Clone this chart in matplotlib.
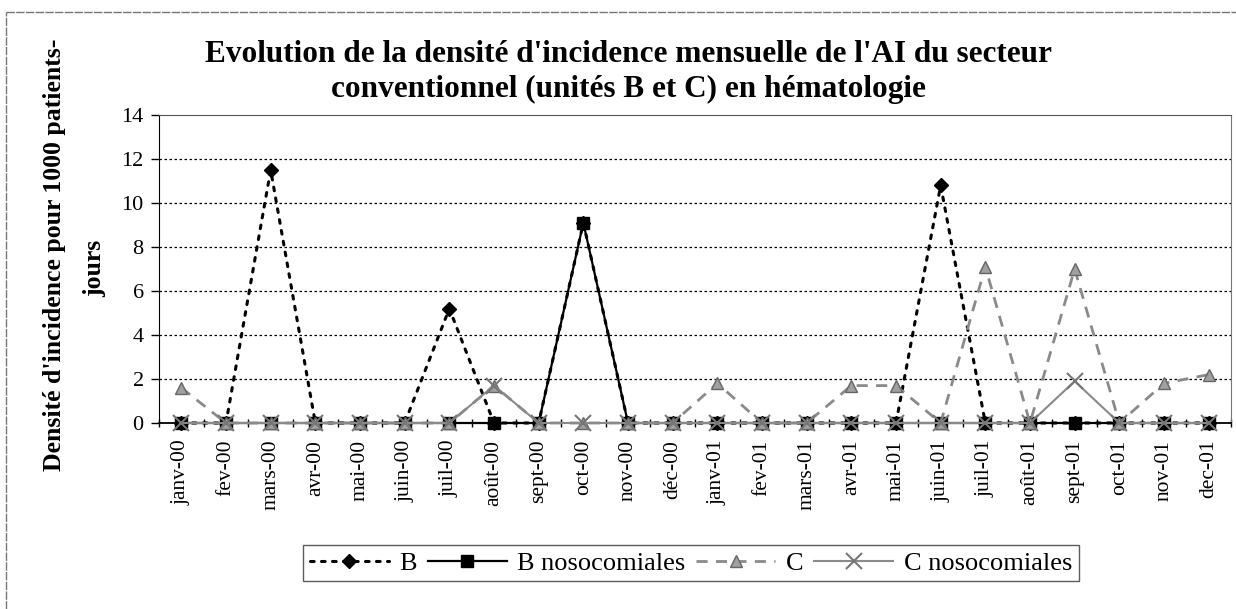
import matplotlib
matplotlib.use("Agg")
import matplotlib.pyplot as plt
from matplotlib.lines import Line2D
import numpy as np

months = ['janv-00', 'fev-00', 'mars-00', 'avr-00', 'mai-00', 'juin-00', 'juil-00',
          'août-00', 'sept-00', 'oct-00', 'nov-00', 'déc-00', 'janv-01', 'fev-01',
          'mars-01', 'avr-01', 'mai-01', 'juin-01', 'juil-01', 'août-01', 'sept-01',
          'oct-01', 'nov-01', 'dec-01']
B = [0, 0, 11.5, 0, 0, 0, 5.2, 0, 0, 9.1, 0, 0,
     0, 0, 0, 0, 0, 10.8, 0, 0, 0, 0, 0, 0]
B_noso = [0, 0, 0, 0, 0, 0, 0, 0, 0, 9.1, 0, 0,
          0, 0, 0, 0, 0, 0, 0, 0, 0, 0, 0, 0]
C = [1.6, 0, 0, 0, 0, 0, 0, 1.7, 0, 0, 0, 0,
     1.8, 0, 0, 1.7, 1.7, 0, 7.1, 0, 7.0, 0, 1.8, 2.2]
C_noso = [0, 0, 0, 0, 0, 0, 0, 1.7, 0, 0, 0, 0,
          0, 0, 0, 0, 0, 0, 0, 0, 1.9, 0, 0, 0]
yticks = [0, 2, 4, 6, 8, 10, 12, 14]

plt.rcParams['font.family'] = ['Liberation Serif', 'DejaVu Serif']

W, H = 1236, 609
fig = plt.figure(figsize=(W / 100, H / 100), dpi=100)
ax = fig.add_axes([159 / W, 1 - 423 / H, (1231 - 159) / W, (423 - 115) / H])

x = np.arange(len(months))
gray = '#8a8a8a'

ax.plot(x, B, linestyle=(0, (1.2, 2.4)), color='black', lw=2.2, marker='D',
        markersize=7.5, markerfacecolor='black', markeredgecolor='black',
        label='B', zorder=3, dash_capstyle='round', clip_on=False)
ax.plot(x, B_noso, linestyle='-', color='black', lw=1.6, marker='s',
        markersize=9, markerfacecolor='black', markeredgecolor='black',
        label='B nosocomiales', zorder=4, clip_on=False)
ax.plot(x, C, linestyle=(0, (4, 3)), color=gray, lw=2.0, marker='^',
        markersize=9, markerfacecolor='#a0a0a0', markeredgecolor='#666666',
        label='C', zorder=5, clip_on=False)
ax.plot(x, C_noso, linestyle='-', color=gray, lw=1.5, marker='x', markersize=11,
        markeredgewidth=1.5, markeredgecolor='#777777', label='C nosocomiales',
        zorder=6, clip_on=False)

ax.set_xlim(-0.5, len(months) - 0.5)
ax.set_ylim(0, 14)
ax.set_yticks(yticks)
ax.set_yticklabels([str(v) for v in yticks], fontsize=16)
ax.set_xticks(x)
ax.set_xticklabels(months, rotation=90, fontsize=15.5)
ax.tick_params(axis='x', which='major', length=0, pad=12)
ax.set_xticks(np.arange(-0.5, len(months), 1), minor=True)
ax.tick_params(axis='x', which='minor', length=6, direction='inout', width=1)
ax.tick_params(axis='y', which='major', length=6, direction='out', width=1, pad=5)

for v in yticks[1:-1]:
    ax.axhline(v, color='black', lw=0.9, linestyle=(0, (2, 2)), zorder=1)

ax.spines['left'].set_color('black')
ax.spines['bottom'].set_color('black')
ax.spines['bottom'].set_linewidth(1.3)
ax.spines['top'].set_color('#555555')
ax.spines['right'].set_color('#777777')

fig.text(628 / W, 1 - 62 / H,
         "Evolution de la densité d'incidence mensuelle de l'AI du secteur",
         ha='center', va='baseline', fontsize=22.5, fontweight='bold')
fig.text(628 / W, 1 - 97 / H,
         "conventionnel (unités B et C) en hématologie",
         ha='center', va='baseline', fontsize=22.5, fontweight='bold')

fig.text(55 / W, 1 - 255 / H, "Densité d'incidence pour 1000 patients-",
         rotation=90, ha='center', va='center', fontsize=18.5, fontweight='bold')
fig.text(95 / W, 1 - 268 / H, "jours",
         rotation=90, ha='center', va='center', fontsize=18.5, fontweight='bold')

leg = fig.legend(loc='center', bbox_to_anchor=(691 / W, 1 - 563 / H), ncol=4,
                 fontsize=19, frameon=True, fancybox=False, handlelength=3.0,
                 columnspacing=0.4, handletextpad=0.4, borderpad=0.25,
                 edgecolor='#333333')
leg.get_frame().set_linewidth(1.0)

fig.add_artist(Line2D([6 / W, 1], [1 - 12 / H, 1 - 12 / H], transform=fig.transFigure,
                      color='#777777', lw=1, linestyle=(0, (6, 1))))
fig.add_artist(Line2D([6 / W, 6 / W], [0, 1 - 12 / H], transform=fig.transFigure,
                      color='#777777', lw=1, linestyle=(0, (6, 1))))

fig.savefig('out.png', dpi=100)
